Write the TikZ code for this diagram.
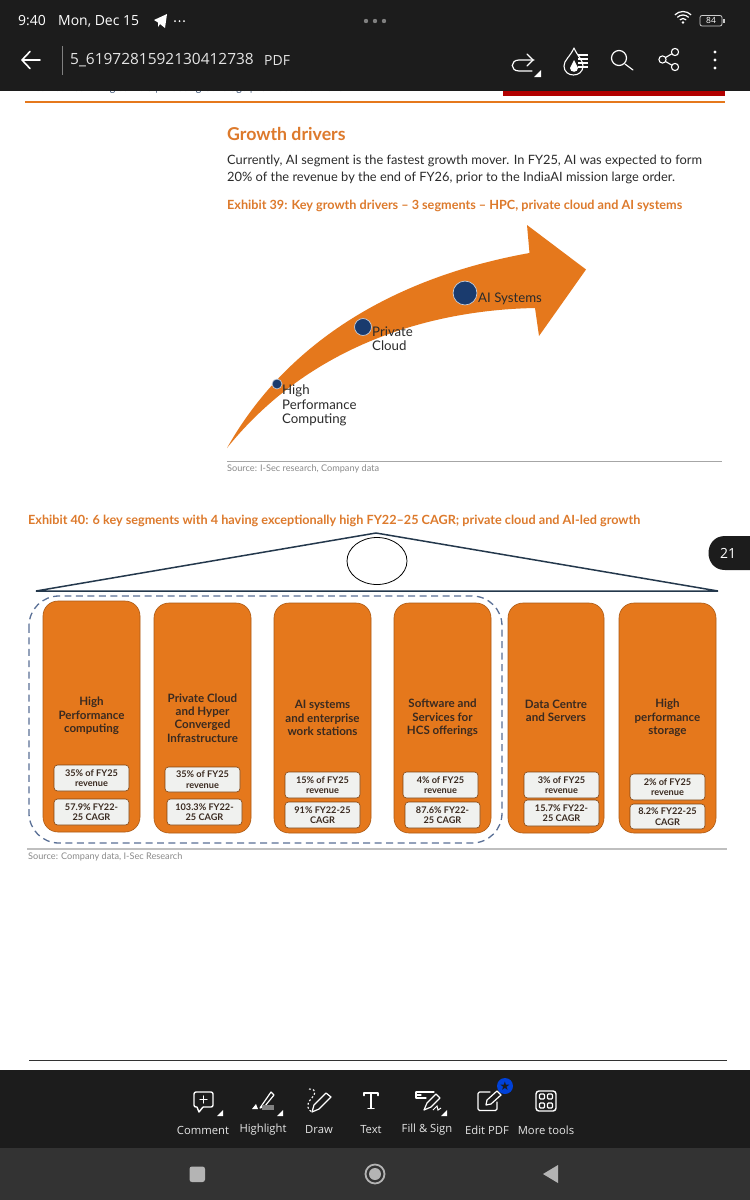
\documentclass[tikz,border=0pt]{standalone}
\usepackage{fontspec}
\setmainfont{Lato}
\newfontfamily\uifont{Open Sans}
\newfontfamily\symfont{DejaVu Sans}
\usetikzlibrary{calc,shapes.geometric}
\definecolor{bar}{HTML}{1C1C1C}
\definecolor{navbar}{HTML}{333333}
\definecolor{acc}{HTML}{E5781C}
\definecolor{acctxt}{HTML}{DD7A2C}
\definecolor{navy}{HTML}{1A3B6E}
\definecolor{slate}{HTML}{24384C}
\definecolor{dashc}{HTML}{5A7096}
\definecolor{chip}{HTML}{F0F1EF}
\definecolor{bodytxt}{HTML}{2B2B2B}
\definecolor{lbl}{HTML}{3A2A20}
\definecolor{graytxt}{HTML}{8A8A8A}
\definecolor{uigray}{HTML}{B4B4B4}
\tikzset{
  uitext/.style={text=white,inner sep=0pt,font=\uifont\fontsize{#1}{#1}\selectfont},
  lft/.style={anchor=west,inner sep=0pt},
  pagetext/.style={lft,text=bodytxt,font=\fontsize{12.9}{12.9}\selectfont},
  orangehead/.style={lft,text=acctxt,font=\bfseries\fontsize{#1}{#1}\selectfont},
  source/.style={lft,text=graytxt,font=\fontsize{9.2}{9.2}\selectfont},
  arrowlabel/.style={anchor=north west,inner sep=0pt,align=left,text=bodytxt,font=\fontsize{13.3}{14.6}\selectfont},
  column/.style={draw=acc!75!black,line width=.6pt,fill=acc,rounded corners=15},
  coltitle/.style={inner sep=0pt,align=center,text=lbl,font=\bfseries\fontsize{11.6}{13.4}\selectfont},
  chipbox/.style={draw=acc!55!black,line width=.6pt,fill=chip,rounded corners=3.5},
  chiptext/.style={inner sep=0pt,align=center,text=lbl,font=\bfseries\fontsize{9.2}{10.6}\selectfont},
  dotnode/.style={circle,draw=white!75!navy,line width=.7pt,fill=navy,inner sep=0pt},
  icon/.style={draw=white,line width=1.2pt,line cap=round,line join=round},
  ticon/.style={draw=white,line width=1.4pt,line cap=round,line join=round}
}
\newcommand{\colbox}[7]{%
 \draw[column] (#1,#3) rectangle (#2,#4);
 \node[coltitle] (#6) at ({(#1+#2)/2},#7) {#5};
}
\newcommand{\chipbx}[6]{%
 \draw[chipbox] (#1,#3) rectangle (#2,#4);
 \node[chiptext] (#6) at ({(#1+#2)/2},{(#3+#4)/2}) {#5};
}
\begin{document}
\begin{tikzpicture}[x=1bp,y=-1bp]
\useasboundingbox (0,0) rectangle (750,1200);
\fill[white] (0,0) rectangle (750,1200);

% clipped running header beneath the app bar
\node[lft,text=navy!70!gray,font=\fontsize{10.5}{10.5}\selectfont] (runhead) at (27,88.5) {NetWeb Technologies India | Initiating Coverage | 15 December 2025};
\fill[red!70!black] (503,90) rectangle (725,96);
\fill[acc] (25,101.2) rectangle (725,103);

% app bar
\fill[bar] (0,0) rectangle (750,91);
\node[uitext=14,anchor=west] (clock) at (18,21) {9:40};
\node[uitext=14,anchor=west] (date) at (58,21) {Mon, Dec 15};
\fill[white] (154,20) -- (167,14) -- (165,28) -- (160,24) -- (158,27) -- (158,22.5) -- cycle;
\foreach \x in {175,179.5,184} \fill[white] (\x,21) circle (1);
\foreach \x in {366,375,384} \fill[gray] (\x,21) circle (2.2);
% wifi
\foreach \r in {4.5,8,11.5} \draw[white,line width=1.2pt] (683,23) ++(-135:\r) arc[start angle=-135,end angle=-45,radius=\r];
\fill[white] (683,22.5) circle (1.3);
% battery
\draw[white!80!black,line width=.8pt,rounded corners=2] (700,15.5) rectangle (722,26);
\fill[white!80!black] (723,18.5) rectangle (724.5,23);
\node[uitext=8.5] (batt) at (711,20.8) {84};
% row 2
\draw[icon,line width=1.6pt] (40,60) -- (22,60) (30,51.5) -- (22,60) -- (30,68.5);
\draw[gray,line width=.8pt] (62,46) -- (62,75);
\node[uitext=15.5,anchor=west,text=white!90!black] (fname) at (70,60.5) {5\_6197281592130412738};
\node[uitext=14,anchor=west,text=white!90!black] (fkind) at (264,60.5) {PDF};
\draw[icon] (534,60) -- (519,60) .. controls (510,60) and (510,71) .. (519,71) -- (532,71);
\draw[icon] (527,54) -- (533,60) -- (527,66);
\fill[white] (541,70) -- (541,77) -- (534,77) -- cycle;
\draw[icon,line width=1.1pt] (574,48) .. controls (570,57) and (564,60) .. (564,66) .. controls (564,78) and (583,78) .. (583,66) .. controls (583,60) and (578,57) .. (574,48) -- cycle;
\draw[white,line width=1.1pt] (578,55) -- (588,55) (578,59) -- (588,59) (578,63) -- (588,63) (578,67) -- (588,67);
\fill[white] (574,60) -- (570,68) .. controls (570,73) and (578,73) .. (578,68) -- cycle;
\draw[icon] (619,58) circle (7.5);
\draw[icon] (625,64) -- (633,70);
\draw[icon,line width=1.1pt] (662.5,59.5) circle (3.6) (675,52) circle (3.6) (675,67) circle (3.6);
\draw[icon,line width=1.1pt] (665.6,57.5) -- (671.8,53.8) (665.6,61.5) -- (671.8,65.2);
\foreach \y in {52,60,68} \fill[white] (715,\y) circle (1.7);

% Growth drivers
\node[orangehead=17.8] (title) at (227,134) {Growth drivers};
\node[pagetext] (p1) at (227,161) {Currently, AI segment is the fastest growth mover. In FY25, AI was expected to form};
\node[pagetext] (p2) at (227,178) {20\% of the revenue by the end of FY26, prior to the IndiaAI mission large order.};
\node[orangehead=12.7] (ex39) at (227,205.5) {Exhibit 39: Key growth drivers – 3 segments – HPC, private cloud and AI systems};

% big arrow
\fill[acc] (227,448) .. controls (285,345) and (390,278) .. (529.5,253)
  -- (527,225) -- (586,269.5) -- (539,336) -- (535,308)
  .. controls (430,310) and (310,345) .. cycle;
\node[dotnode,minimum size=10pt] (d1) at (277,384) {};
\node[dotnode,minimum size=17pt] (d2) at (363,327) {};
\node[dotnode,minimum size=24pt] (d3) at (465,293) {};
\node[arrowlabel] (l1) at (282,384.5) {High\\Performance\\Computing};
\node[arrowlabel] (l2) at (372,326.5) {Private\\Cloud};
\node[arrowlabel] (l3) at (478,293) {AI Systems};
\draw[gray!70,line width=.7pt] (227,461) -- (722,461);
\node[source] (s1) at (227,469) {Source: I-Sec research, Company data};

% Exhibit 40
\node[orangehead=12.7] (ex40) at (28,520.5) {Exhibit 40: 6 key segments with 4 having exceptionally high FY22–25 CAGR; private cloud and AI-led growth};
\draw[slate,line width=1.5pt,line join=miter] (36,591) -- (376,533) -- (718,591) -- cycle;
\node[draw=black,line width=.8pt,ellipse,fill=white,minimum width=60bp,minimum height=47bp,inner sep=0pt] (oval) at (377,561) {};

\colbox{43}{140}{601}{832}{High\\Performance\\computing}{c1}{716}
\colbox{154}{251}{603}{833}{Private Cloud\\and Hyper\\Converged\\Infrastructure}{c2}{718}
\colbox{274}{371}{603}{833}{AI systems\\and enterprise\\work stations}{c3}{718}
\colbox{394}{491}{603}{833}{Software and\\Services for\\HCS offerings}{c4}{718}
\colbox{508}{604}{603}{833}{Data Centre\\and Servers}{c5}{711}
\colbox{619}{716}{603}{833}{High\\performance\\storage}{c6}{718}

\chipbx{54}{129}{765}{791}{35\% of FY25\\revenue}{a1}
\chipbx{54}{129}{799}{825}{57.9\% FY22-\\25 CAGR}{b1}
\chipbx{165}{240}{767}{792}{35\% of FY25\\revenue}{a2}
\chipbx{167}{242}{799}{825}{103.3\% FY22-\\25 CAGR}{b2}
\chipbx{285}{360}{772}{798}{15\% of FY25\\revenue}{a3}
\chipbx{285}{360}{802}{828}{91\% FY22-25\\CAGR}{b3}
\chipbx{403}{478}{772}{798}{4\% of FY25\\revenue}{a4}
\chipbx{405}{480}{802}{828}{87.6\% FY22-\\25 CAGR}{b4}
\chipbx{524}{599}{772}{798}{3\% of FY25\\revenue}{a5}
\chipbx{524}{599}{800}{826}{15.7\% FY22-\\25 CAGR}{b5}
\chipbx{630}{705}{774}{800}{2\% of FY25\\revenue}{a6}
\chipbx{630}{705}{804}{829}{8.2\% FY22-25\\CAGR}{b6}

\draw[dashc,line width=1.3pt,dash pattern=on 7pt off 4.5pt,rounded corners=30] (29,596) rectangle (502,843);
\draw[gray!50,line width=1.2pt] (27,849) -- (727,849);
\node[source] (s2) at (28,857) {Source: Company data, I-Sec Research};

% page number pill
\fill[bar] (750,536) -- (725,536) .. controls (703,536) and (703,570) .. (725,570) -- (750,570) -- cycle;
\node[uitext=14] (pg) at (728,553) {21};

\draw[black!80,line width=.8pt] (29,1060) -- (727,1060);

% bottom toolbar
\fill[bar] (0,1070) rectangle (750,1148);
\fill[navbar] (0,1148) rectangle (750,1200);
\foreach \n/\x/\t in {tc/203/Comment,th/263/Highlight,td/319/Draw,tt/371/Text,tf/427/Fill \& Sign,te/487/Edit PDF,tm/546/More tools}
  \node[uitext=11.3,text=white!90!black] (\n) at (\x,1130) {\t};

% comment
\draw[ticon,rounded corners=2] (194,1092) rectangle (213,1107);
\fill[bar] (197,1105) rectangle (203,1109);
\draw[ticon] (197,1107) -- (199,1112) -- (203,1107);
\draw[ticon,line width=1.2pt] (203.5,1096) -- (203.5,1103) (200,1099.5) -- (207,1099.5);
\fill[white] (223,1110) -- (223,1116) -- (217,1116) -- cycle;
% highlight
\draw[ticon,line width=1.2pt] (260,1108) -- (271,1092) -- (274,1095) -- (265,1106) -- cycle;
\fill[white] (252,1109) -- (256,1104) -- (258,1109) -- cycle;
\fill[gray] (262,1105) rectangle (274,1110);
\fill[white] (283,1110) -- (283,1116) -- (277,1116) -- cycle;
% draw
\draw[ticon,line width=1.2pt] (312,1112) -- (314,1105) -- (326,1093) -- (331,1097) -- (319,1109) -- cycle;
\draw[white,line width=1.1pt,dash pattern=on 2pt off 2pt] (309,1089) .. controls (318,1089) and (315,1095) .. (311,1099) .. controls (306,1104) and (307,1110) .. (312,1112);
% text
\draw[ticon,line width=1.5pt] (364,1095.5) -- (364,1093) -- (378,1093) -- (378,1095.5) (371,1093) -- (371,1108.5) (368,1108.5) -- (374,1108.5);
% fill & sign
\draw[ticon,line width=1.2pt] (416,1092) -- (434,1092) (416,1092) -- (416,1098) -- (426,1098) (416,1095) -- (421,1095);
\draw[ticon,line width=1.2pt] (424,1110) -- (427,1103) -- (436,1094) -- (440,1098) -- (431,1107) -- cycle;
\draw[white,line width=1pt] (433,1110) -- (437,1106) -- (438,1110) -- (441,1108);
\fill[white] (447,1110) -- (447,1116) -- (441,1116) -- cycle;
% edit pdf
\draw[ticon,line width=1.2pt,rounded corners=1.5] (490,1092) -- (478,1092) -- (478,1110.5) -- (497,1110.5) -- (497,1102);
\draw[ticon,line width=1.2pt] (486,1105) -- (487,1100) -- (497,1091) -- (501,1095) -- (491,1104) -- cycle;
\fill[blue!70!cyan!85!black] (505,1086) circle (8);
\node[inner sep=0pt,text=bar,font=\symfont\fontsize{12}{12}\selectfont] (star) at (505,1086) {★};
% more tools
\draw[ticon,rounded corners=3] (536,1091) rectangle (556,1111);
\foreach \x in {542,550} \foreach \y in {1096.5,1105.5} \draw[white,line width=1.1pt,rounded corners=1] (\x-2.5,\y-2.5) rectangle (\x+2.5,\y+2.5);

% nav buttons
\fill[uigray,rounded corners=2.5] (189.5,1166.5) rectangle (205,1182);
\draw[uigray,line width=1.8pt] (375,1174) circle (9.5);
\fill[uigray] (375,1174) circle (6);
\fill[uigray] (543,1174) -- (558,1165) -- (558,1183) -- cycle;
\end{tikzpicture}
\end{document}
